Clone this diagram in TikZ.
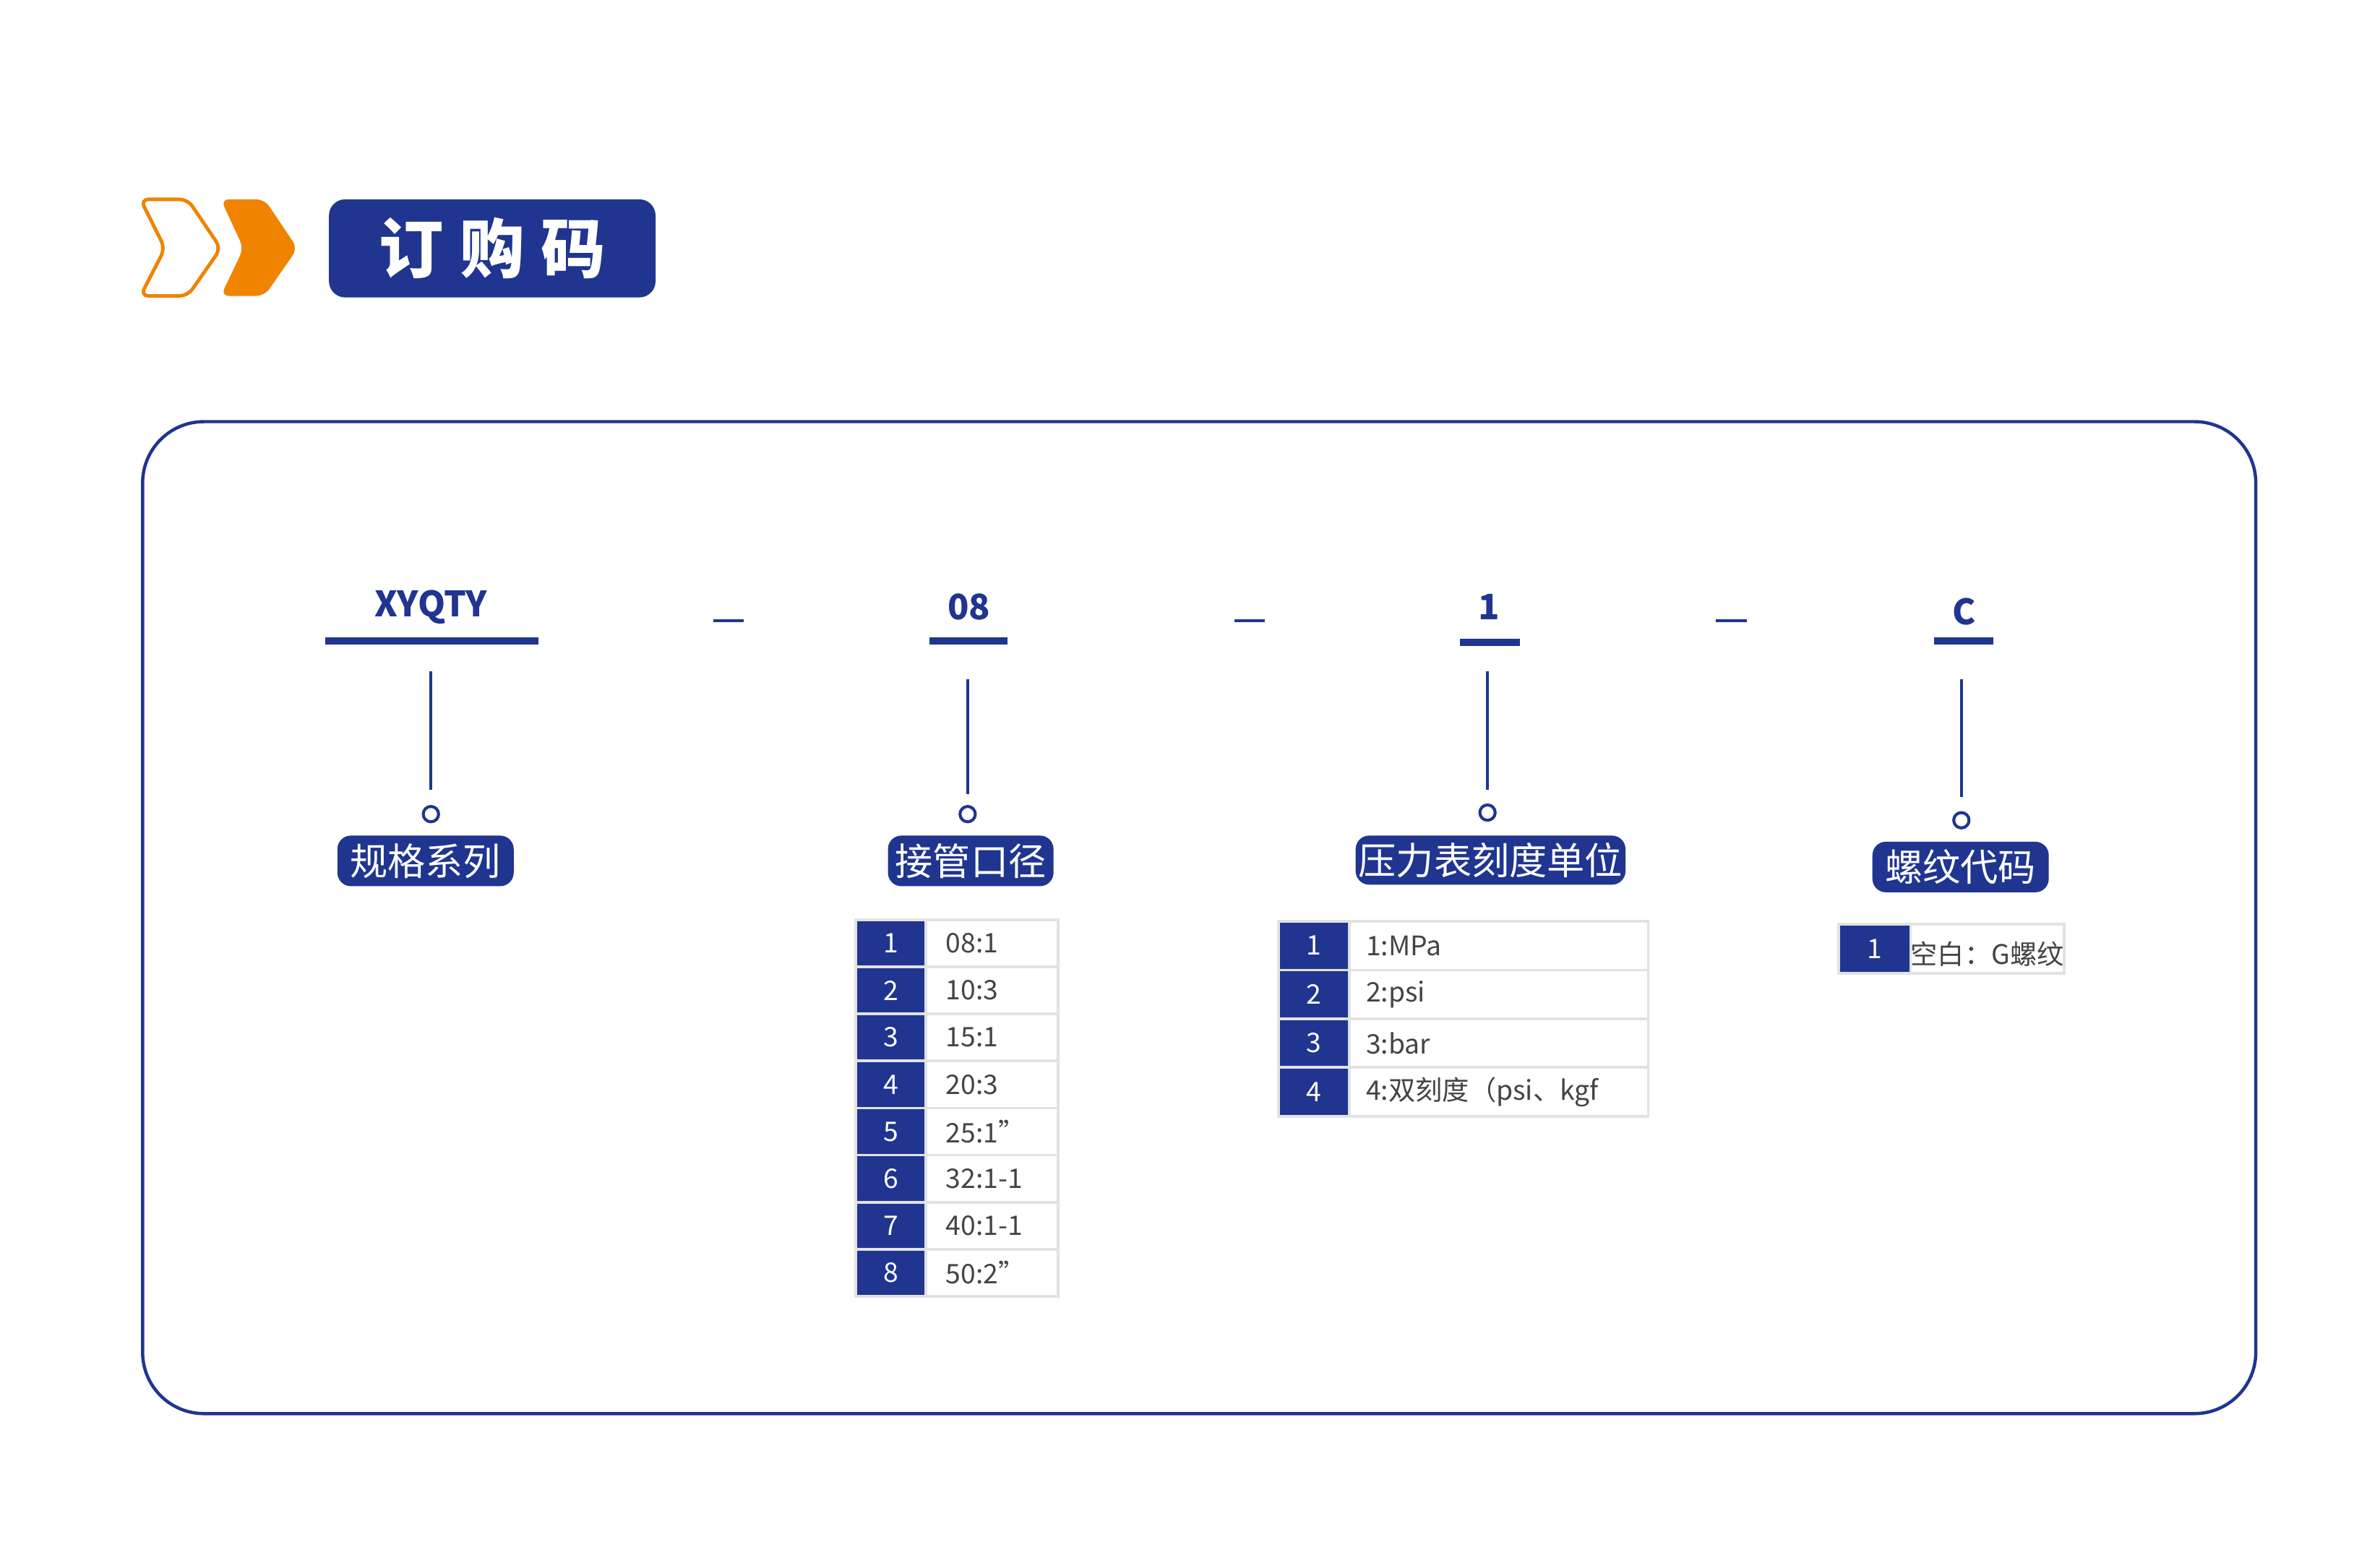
\documentclass[tikz,border=0pt]{standalone}
\usepackage{fontspec}
\setmainfont{Noto Sans CJK SC}
\definecolor{cblue}{HTML}{1F3590}
\definecolor{corange}{HTML}{F08300}
\definecolor{cgray}{HTML}{E2E2E2}
\definecolor{ctext}{HTML}{444444}
\tikzset{
 lab/.style={fill=cblue,text=white,rounded corners=5pt,font=\fontsize{14}{16}\selectfont,inner sep=0pt},
 code/.style={text=cblue,font=\bfseries\fontsize{13}{15}\selectfont,inner sep=0pt},
 numc/.style={draw=cgray,line width=1pt,fill=cblue,text=white,font=\fontsize{10}{12}\selectfont,inner sep=0pt,anchor=north west},
 valc/.style={draw=cgray,line width=1pt,fill=white,text=ctext,font=\fontsize{10}{12}\selectfont,inner sep=0pt,anchor=north west,text width=#1,align=left},
 uline/.style={cblue,line width=2.6pt},
 vline/.style={cblue,line width=1.1pt},
 dot/.style={circle,draw=cblue,line width=1.1pt,fill=white,minimum size=0.2cm,inner sep=0pt},
}
\begin{document}
\begin{tikzpicture}[x=0.02cm,y=-0.02cm]
\useasboundingbox (0,0) rectangle (1552,1005.3);
% header chevrons
\draw[corange,line width=1.3pt,rounded corners=3pt] (91.6,130)--(122.4,130)--(144,162)--(122.4,193)--(91.6,193)--(107.6,162)--cycle;
\fill[corange,rounded corners=3pt] (144,130)--(172.5,130)--(194,162)--(172.5,193)--(144,193)--(158.8,162)--cycle;
\node[fill=cblue,rounded corners=6pt,minimum width=4.26cm,minimum height=1.28cm,text=white,font=\bfseries\fontsize{24}{26}\selectfont] (title) at (321,162) {订\hspace{0.25em}购\hspace{0.25em}码};
% main frame
\draw[cblue,line width=1.2pt,rounded corners=0.8cm] (93,275) rectangle (1471,922);
% codes
\node[code] (c1) at (281,396) {XYQTY};
\node[code] (c2) at (632,396) {08};
\node[code] (c3) at (971,396) {1};
\node[code] (c4) at (1281,399) {C};
\draw[uline] (212,418)--(351,418);
\draw[uline] (606,418)--(657,418);
\draw[uline] (952,419)--(991,419);
\draw[uline] (1261,418)--(1300,418);
\draw[cblue,line width=1pt] (465,405)--(485,405);
\draw[cblue,line width=1pt] (805,405)--(825,405);
\draw[cblue,line width=1pt] (1119,405)--(1139,405);
% leaders
\node[dot] (d1) at (281,531) {};
\node[dot] (d2) at (631,531) {};
\node[dot] (d3) at (970,530) {};
\node[dot] (d4) at (1279,535) {};
\coordinate (t1) at (281,438); \coordinate (t2) at (631,443);
\coordinate (t3) at (970,438); \coordinate (t4) at (1279,443);
\draw[vline] (t1)--(281,515); \draw[vline] (t2)--(631,518);
\draw[vline] (t3)--(970,515); \draw[vline] (t4)--(1279,520);
% labels
\node[lab,minimum width=2.3cm,minimum height=0.66cm] (l1) at (277.5,561.5) {规格系列};
\node[lab,minimum width=2.16cm,minimum height=0.66cm] (l2) at (633,561.5) {接管口径};
\node[lab,minimum width=3.52cm,minimum height=0.64cm] (l3) at (972,561) {压力表刻度单位};
\node[lab,minimum width=2.3cm,minimum height=0.66cm] (l4) at (1278.5,565.5) {螺纹代码};
% table 1
\foreach \i/\v in {1/08:1/4",2/10:3/8",3/15:1/2",4/20:3/4",5/25:1",6/32:1-1/4",7/40:1-1/2",8/50:2"}{
 \node[numc,minimum width=0.92cm,minimum height=0.614cm] (a\i) at (557,{599+(\i-1)*30.7}) {\i};
 \node[valc=1.72cm,minimum height=0.614cm] (b\i) at (603,{599+(\i-1)*30.7}) {\hspace{0.26cm}\v};
}
% table 2
\foreach \i/\v in {1/1:MPa,2/2:psi,3/3:bar,4/4:双刻度（psi、kgf/cm²）}{
 \node[numc,minimum width=0.92cm,minimum height=0.636cm] (p\i) at (833,{600+(\i-1)*31.8}) {\i};
 \node[valc=3.9cm,minimum height=0.636cm] (q\i) at (879,{600+(\i-1)*31.8}) {\hspace{0.22cm}\v};
}
% table 3
\node[numc,minimum width=0.94cm,minimum height=0.64cm] (r1) at (1198,602) {1};
\node[valc=2.0cm,minimum height=0.64cm] (s1) at (1245,602) {\hspace{0.22cm}空白：G螺纹};
\end{tikzpicture}
\end{document}
